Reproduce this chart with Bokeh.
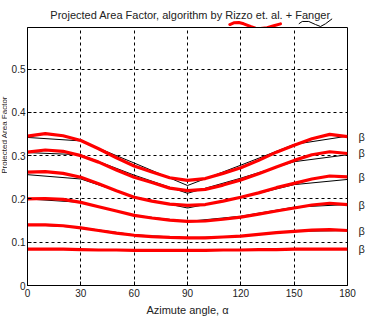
import math
from bokeh.plotting import figure
from bokeh.layouts import column, row
from bokeh.models import Range1d, FixedTicker, LinearAxis, CustomJSTickFormatter
from bokeh.core.properties import value
from bokeh.embed import file_html
from bokeh.resources import INLINE

# Azimuth angles (deg)
alpha_red = [0, 10, 20, 30, 40, 50, 60, 70, 80, 90, 100, 110, 120, 130, 140, 150, 160, 170, 180]
alpha_black = [0, 30, 60, 90, 120, 150, 180]

# Rizzo et al. (red) – one series per beta
rizzo_1 = [0.345, 0.351, 0.346, 0.335, 0.316, 0.295, 0.276, 0.262, 0.249, 0.243, 0.247, 0.259, 0.272, 0.289, 0.308, 0.324, 0.339, 0.349, 0.344]
rizzo_2 = [0.308, 0.313, 0.310, 0.300, 0.285, 0.267, 0.250, 0.238, 0.225, 0.219, 0.222, 0.232, 0.244, 0.258, 0.274, 0.289, 0.302, 0.309, 0.305]
rizzo_3 = [0.262, 0.263, 0.259, 0.250, 0.235, 0.219, 0.204, 0.195, 0.188, 0.185, 0.187, 0.195, 0.204, 0.214, 0.226, 0.236, 0.246, 0.253, 0.251]
rizzo_4 = [0.200, 0.201, 0.199, 0.192, 0.182, 0.172, 0.162, 0.156, 0.151, 0.148, 0.149, 0.153, 0.158, 0.165, 0.172, 0.179, 0.186, 0.190, 0.187]
rizzo_5 = [0.140, 0.140, 0.138, 0.133, 0.127, 0.121, 0.116, 0.113, 0.111, 0.110, 0.110, 0.112, 0.114, 0.118, 0.122, 0.125, 0.128, 0.129, 0.127]
rizzo_6 = [0.084, 0.084, 0.084, 0.083, 0.082, 0.082, 0.081, 0.081, 0.081, 0.081, 0.081, 0.082, 0.082, 0.083, 0.083, 0.084, 0.084, 0.084, 0.084]

# Fanger (black)
fanger_1 = [0.342, 0.334, 0.283, 0.231, 0.278, 0.326, 0.345]
fanger_2 = [0.307, 0.302, 0.255, 0.213, 0.248, 0.286, 0.302]
fanger_3 = [0.256, 0.246, 0.205, 0.179, 0.203, 0.233, 0.245]
fanger_4 = [0.200, 0.192, 0.162, 0.148, 0.160, 0.181, 0.187]
fanger_5 = [0.141, 0.134, 0.117, 0.110, 0.114, 0.125, 0.127]
fanger_6 = [0.084, 0.083, 0.081, 0.081, 0.082, 0.084, 0.084]

rizzo = [rizzo_1, rizzo_2, rizzo_3, rizzo_4, rizzo_5, rizzo_6]
fanger = [fanger_1, fanger_2, fanger_3, fanger_4, fanger_5, fanger_6]

x_ticks = [0, 30, 60, 90, 120, 150, 180]
y_ticks = [0, 0.1, 0.2, 0.3, 0.4, 0.5]

title_text = "Projected Area Factor, algorithm by Rizzo et. al. + Fanger"
x_label = "Azimute angle, \u03b1"
y_label = "Projected Area Factor"

# hand-drawn key strokes drawn over the title (same data units, above the frame)
key_red_x = [111.7, 113.9, 116.7, 119.4, 123.1, 125.9, 128.6, 132.3, 136.0, 139.7]
key_red_y = [0.6029, 0.6069, 0.6075, 0.6045, 0.5983, 0.5944, 0.5937, 0.5953, 0.5999, 0.6045]
key_black_x = [149.8, 151.7, 155.3, 159.0, 161.8, 164.5, 168.2]
key_black_y = [0.6045, 0.6099, 0.6099, 0.6029, 0.5983, 0.6045, 0.6161]

FONT = "Liberation Sans"
TXT = "#222222"

Y_MAX = 0.596
PX_PER_Y = 433.0  # vertical scale of the main frame (pixels per unit)
LEFT_W = 7

xr = Range1d(0, 180)

# ---------- main plot ----------
p = figure(width=367 - LEFT_W, height=291, output_backend="svg", toolbar_location=None,
           x_range=xr, y_range=Range1d(0, Y_MAX),
           min_border_left=27 - LEFT_W, min_border_right=14, min_border_top=0, min_border_bottom=33)
p.outline_line_color = "black"
p.outline_line_width = 1
p.background_fill_color = "white"
p.border_fill_color = "white"

p.xaxis.ticker = FixedTicker(ticks=x_ticks)
p.yaxis.ticker = FixedTicker(ticks=y_ticks)
p.yaxis.major_label_overrides = {0: "0"}
for ax in (p.xaxis, p.yaxis):
    ax.major_tick_in = 4
    ax.major_tick_out = 0
    ax.minor_tick_line_color = None
    ax.axis_line_color = "black"
    ax.major_tick_line_color = "black"
    ax.major_label_text_font = FONT
    ax.major_label_text_font_size = "10px"
    ax.major_label_text_color = TXT
    ax.major_label_standoff = 3
p.yaxis.major_label_standoff = 2

p.xaxis.axis_label = x_label
p.xaxis.axis_label_text_font = FONT
p.xaxis.axis_label_text_font_size = "11px"
p.xaxis.axis_label_text_font_style = "normal"
p.xaxis.axis_label_text_color = TXT
p.xaxis.axis_label_standoff = 4

for g in (p.xgrid, p.ygrid):
    g.grid_line_color = "black"
    g.grid_line_dash = "3 3"
    g.grid_line_width = 1
p.xgrid.ticker = FixedTicker(ticks=x_ticks[1:-1])
p.ygrid.ticker = FixedTicker(ticks=y_ticks[1:])

for ys in fanger:
    p.line(alpha_black, ys, line_color="black", line_width=1)
for ys in rizzo:
    p.line(alpha_red, ys, line_color="red", line_width=3.2)

# beta labels at the right end of each curve, via a right-hand axis
beta_axis = LinearAxis(ticker=FixedTicker(ticks=[ys[-1] for ys in rizzo]),
                       formatter=CustomJSTickFormatter(code="return '\u03b2'"),
                       axis_line_color=None, major_tick_line_color=None,
                       minor_tick_line_color=None, major_label_standoff=5,
                       major_label_text_font=FONT, major_label_text_font_size="11px",
                       major_label_text_color=TXT)
p.add_layout(beta_axis, "right")

# ---------- title strip ----------
top_h = 27
top = figure(width=367, height=top_h, output_backend="svg", toolbar_location=None,
             x_range=xr, y_range=Range1d(Y_MAX, Y_MAX + top_h / PX_PER_Y),
             x_axis_location=None, y_axis_location=None,
             min_border_left=27, min_border_right=14, min_border_top=0, min_border_bottom=0)
top.outline_line_color = None
top.grid.visible = False
top.background_fill_color = "white"
top.border_fill_color = "white"
top.text(x=[(xr.start + xr.end) / 2], y=[Y_MAX + 13 / PX_PER_Y], text=[title_text],
         text_font=value(FONT), text_font_size="11px", text_color=TXT,
         text_align="center", text_baseline="middle")
top.line(key_red_x, key_red_y, line_color="red", line_width=3, line_join="round", line_cap="round")
top.line(key_black_x, key_black_y, line_color="black", line_width=1)

# ---------- y-label strip ----------
left = figure(width=LEFT_W, height=291, output_backend="svg", toolbar_location=None,
              x_range=Range1d(0, LEFT_W), y_range=Range1d(-33 / PX_PER_Y, Y_MAX),
              x_axis_location=None, y_axis_location=None,
              min_border_left=0, min_border_right=0, min_border_top=0, min_border_bottom=0)
left.outline_line_color = None
left.grid.visible = False
left.background_fill_color = "white"
left.border_fill_color = "white"
left.text(x=[LEFT_W / 2], y=[0.316], text=[y_label], angle=math.pi / 2,
          text_font=value(FONT), text_font_size="8px", text_color=TXT,
          text_align="center", text_baseline="middle")

layout = column(top, row(left, p, spacing=0), spacing=0)

open("out.html", "w").write(file_html(layout, INLINE))
